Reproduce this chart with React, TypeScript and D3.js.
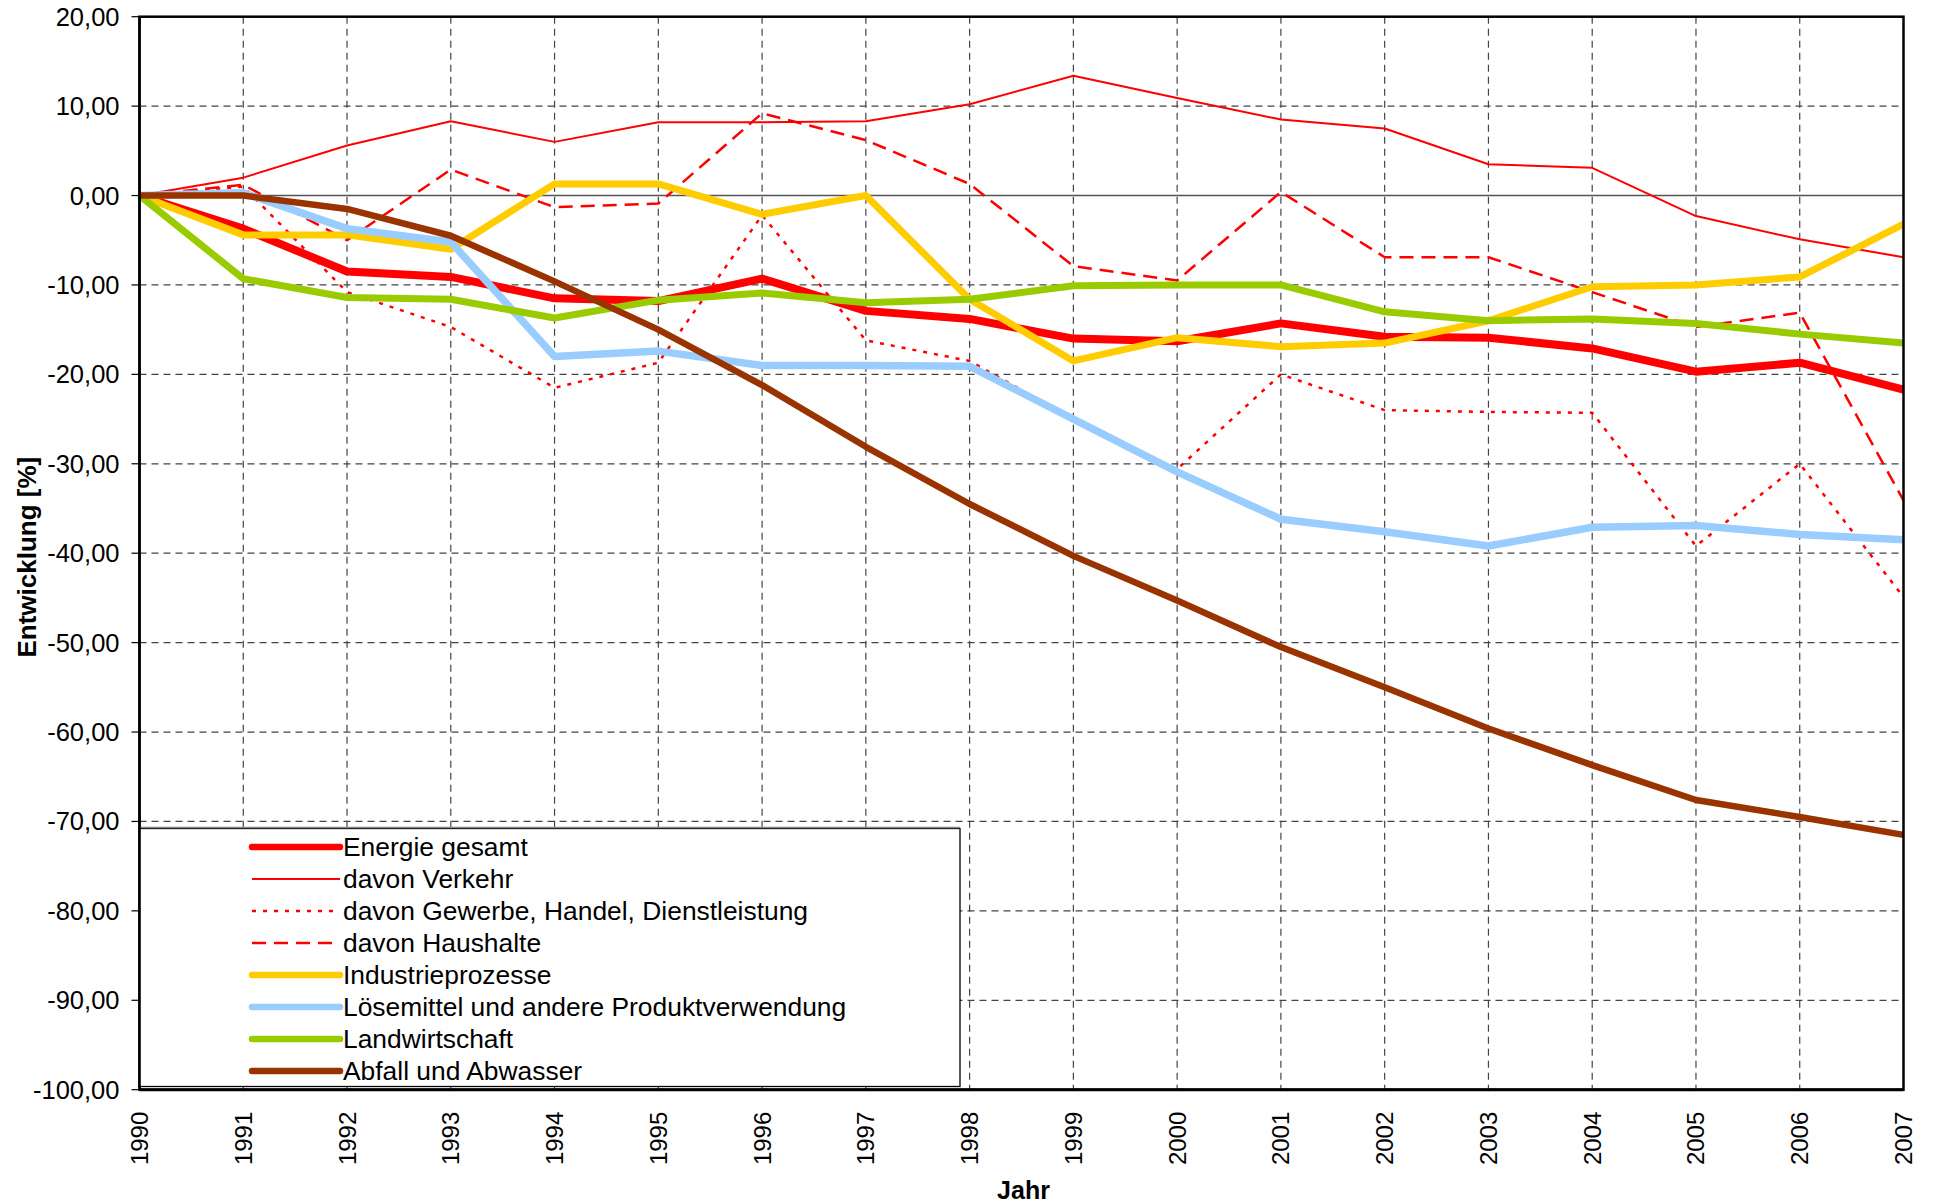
import React from "react";
import * as d3 from "d3";

// Entwicklung der Emissionen 1990 = 0 %
const years = [
  1990, 1991, 1992, 1993, 1994, 1995, 1996, 1997, 1998, 1999, 2000, 2001, 2002,
  2003, 2004, 2005, 2006, 2007,
];

const energie = [0, -3.7, -8.5, -9.1, -11.5, -11.8, -9.3, -12.9, -13.8, -16.0, -16.3, -14.3, -15.8, -15.9, -17.1, -19.7, -18.7, -21.7];
const verkehr = [0, 2.0, 5.6, 8.3, 6.0, 8.2, 8.2, 8.3, 10.2, 13.4, 10.9, 8.5, 7.5, 3.5, 3.1, -2.3, -4.9, -6.9];
const gewerbe = [0, 1.0, -10.8, -14.7, -21.5, -18.7, -2.2, -16.2, -18.5, -25.0, -30.6, -20.0, -24.0, -24.2, -24.3, -39.2, -30.0, -44.9];
const haushalte = [0, 1.2, -5.0, 2.9, -1.3, -0.9, 9.2, 6.2, 1.3, -7.9, -9.5, 0.4, -6.9, -6.9, -10.8, -14.7, -13.1, -34.1];
const industrie = [0, -4.4, -4.4, -6.0, 1.3, 1.3, -2.1, 0, -11.6, -18.5, -15.9, -16.9, -16.5, -14.0, -10.2, -10.0, -9.1, -3.2];
const loesemittel = [0, 0.3, -3.7, -5.2, -18.0, -17.4, -19.0, -19.0, -19.1, -25.0, -30.9, -36.2, -37.6, -39.2, -37.1, -36.9, -37.9, -38.5];
const landwirtschaft = [0, -9.3, -11.4, -11.6, -13.7, -11.7, -10.9, -12.0, -11.6, -10.1, -10.0, -10.0, -13.0, -14.0, -13.8, -14.3, -15.5, -16.5];
const abfall = [0, 0, -1.5, -4.5, -9.6, -15.0, -21.2, -28.1, -34.5, -40.3, -45.3, -50.5, -55.0, -59.6, -63.7, -67.6, -69.5, -71.5];

const yTicks = [20, 10, 0, -10, -20, -30, -40, -50, -60, -70, -80, -90, -100];

const series = [
  { name: "Energie gesamt", values: energie, color: "#ff0000", width: 8, dash: null },
  { name: "davon Verkehr", values: verkehr, color: "#ff0000", width: 2, dash: null },
  { name: "davon Gewerbe, Handel, Dienstleistung", values: gewerbe, color: "#ff0000", width: 2.5, dash: "4,7" },
  { name: "davon Haushalte", values: haushalte, color: "#ff0000", width: 2.5, dash: "14,8" },
  { name: "Industrieprozesse", values: industrie, color: "#ffcc00", width: 7, dash: null },
  { name: "Lösemittel und andere Produktverwendung", values: loesemittel, color: "#99ccff", width: 7.5, dash: null },
  { name: "Landwirtschaft", values: landwirtschaft, color: "#99cc00", width: 7, dash: null },
  { name: "Abfall und Abwasser", values: abfall, color: "#993300", width: 6.5, dash: null },
];

const W = 1933;
const H = 1204;
const m = { left: 139.5, right: 1903.5, top: 16.7, bottom: 1089.7 };
const font = "Arial, 'Liberation Sans', sans-serif";

const fmt = (v: number) => v.toFixed(2).replace(".", ",");

export default function App() {
  const x = d3.scaleLinear().domain([1990, 2007]).range([m.left, m.right]);
  const y = d3.scaleLinear().domain([-100, 20]).range([m.bottom, m.top]);

  const line = d3
    .line<number>()
    .x((_d, i) => x(years[i]))
    .y((d) => y(d));

  const legend = { x: 139.5, y: 828.5, w: 820.5, h: 258, row: 32, first: 847 };

  return (
    <svg
      width={W}
      height={H}
      style={{ position: "absolute", left: 0, top: 0, background: "#fff" }}
      fontFamily={font}
    >
      <rect width={W} height={H} fill="#fff" />

      {/* grid */}
      {yTicks.map((t) =>
        t === 0 || t === 20 || t === -100 ? null : (
          <line key={"gy" + t} x1={m.left} x2={m.right} y1={y(t)} y2={y(t)} stroke="#444" strokeWidth={1.2} strokeDasharray="7,5" />
        )
      )}
      {years.slice(1, -1).map((yr) => (
        <line key={"gx" + yr} x1={x(yr)} x2={x(yr)} y1={m.top} y2={m.bottom} stroke="#444" strokeWidth={1.2} strokeDasharray="7,5" />
      ))}
      <line x1={m.left} x2={m.right} y1={y(0)} y2={y(0)} stroke="#555" strokeWidth={1.5} />

      {/* y ticks and labels */}
      {yTicks.map((t) => (
        <g key={"ty" + t}>
          <line x1={m.left - 8} x2={m.left} y1={y(t)} y2={y(t)} stroke="#000" strokeWidth={1.2} />
          <text x={m.left - 20} y={y(t)} textAnchor="end" dominantBaseline="central" fontSize={25.5} fill="#000">
            {fmt(t)}
          </text>
        </g>
      ))}

      {/* x labels */}
      {years.map((yr) => (
        <text
          key={"tx" + yr}
          transform={`translate(${x(yr)},${m.bottom + 22}) rotate(-90)`}
          textAnchor="end"
          dominantBaseline="central"
          fontSize={24}
          fill="#000"
        >
          {yr}
        </text>
      ))}

      {/* series */}
      {series.map((s) => (
        <path
          key={s.name}
          d={line(s.values) || ""}
          fill="none"
          stroke={s.color}
          strokeWidth={s.width}
          strokeDasharray={s.dash || undefined}
          strokeLinejoin="round"
        />
      ))}

      {/* frame */}
      <rect x={m.left} y={m.top} width={m.right - m.left} height={m.bottom - m.top} fill="none" stroke="#000" strokeWidth={2.5} />

      {/* legend */}
      <rect x={legend.x} y={legend.y} width={legend.w} height={legend.h} fill="#fff" stroke="#000" strokeWidth={1.3} />
      <line x1={legend.x} x2={legend.x + legend.w} y1={legend.y - 1} y2={legend.y - 1} stroke="#888" strokeWidth={1.5} />
      {series.map((s, i) => {
        const ry = legend.first + i * legend.row;
        return (
          <g key={"lg" + s.name}>
            <line
              x1={252}
              x2={340}
              y1={ry}
              y2={ry}
              stroke={s.color}
              strokeWidth={s.width > 3 ? 6.5 : s.width}
              strokeDasharray={s.dash || undefined}
              strokeLinecap={s.width > 3 ? "round" : "butt"}
            />
            <text x={343} y={ry} dominantBaseline="central" fontSize={26.4} fill="#000">
              {s.name}
            </text>
          </g>
        );
      })}
      {/* redraw bottom axis over legend */}
      <line x1={m.left} x2={m.right} y1={m.bottom} y2={m.bottom} stroke="#000" strokeWidth={3} />
      <line x1={m.left} x2={m.left} y1={m.top} y2={m.bottom} stroke="#000" strokeWidth={2.5} />

      {/* axis titles */}
      <text
        transform={`translate(36,${(m.top + m.bottom) / 2 + 4}) rotate(-90)`}
        textAnchor="middle"
        fontSize={26}
        fontWeight="bold"
        fill="#000"
      >
        Entwicklung [%]
      </text>
      <text x={(m.left + m.right) / 2 + 2} y={1199} textAnchor="middle" fontSize={25} fontWeight="bold" fill="#000">
        Jahr
      </text>
    </svg>
  );
}
